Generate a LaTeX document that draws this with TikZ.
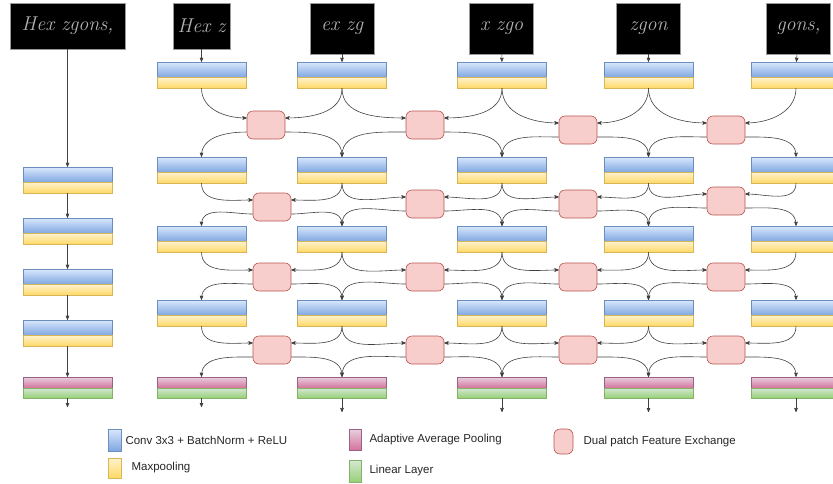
\documentclass[tikz,border=0pt]{standalone}
\usepackage{fontspec}
\newfontfamily\labelfont{Liberation Sans}
\usetikzlibrary{arrows,positioning,shapes}

\definecolor{convtop}{HTML}{DAE8FC}
\definecolor{convbot}{HTML}{7EA6E0}
\definecolor{convline}{HTML}{6C8EBF}
\definecolor{pooltop}{HTML}{FFF2CC}
\definecolor{poolbot}{HTML}{FFD966}
\definecolor{poolline}{HTML}{D6B656}
\definecolor{avgtop}{HTML}{E6D0DE}
\definecolor{avgbot}{HTML}{D5739D}
\definecolor{avgline}{HTML}{996185}
\definecolor{lintop}{HTML}{D5E8D4}
\definecolor{linbot}{HTML}{97D077}
\definecolor{linline}{HTML}{82B366}
\definecolor{xchfill}{HTML}{F8CECC}
\definecolor{xchline}{HTML}{B85450}

\begin{document}
\begin{tikzpicture}[->,>=stealth',x=1pt,y=-1pt,line width=0.6pt,draw=black!75,node distance=13pt]
\tikzstyle{conv}=[rectangle,draw=convline,line width=0.5pt,top color=convtop,bottom color=convbot,minimum width=89pt,minimum height=15.5pt,inner sep=0pt]
\tikzstyle{pool}=[rectangle,draw=poolline,line width=0.5pt,top color=pooltop,bottom color=poolbot,minimum width=89pt,minimum height=10.5pt,inner sep=0pt]
\tikzstyle{avg}=[rectangle,draw=avgline,line width=0.5pt,top color=avgtop,bottom color=avgbot,minimum width=89pt,minimum height=11pt,inner sep=0pt]
\tikzstyle{lin}=[rectangle,draw=linline,line width=0.5pt,top color=lintop,bottom color=linbot,minimum width=89pt,minimum height=10pt,inner sep=0pt]
\tikzstyle{xch}=[rectangle,rounded corners=6pt,draw=xchline,line width=0.6pt,fill=xchfill,minimum width=38pt,minimum height=28pt,inner sep=0pt]
\tikzstyle{image}=[rectangle,draw=black!40,line width=0.6pt,fill=black,text=black!30,inner sep=0pt,font=\fontsize{20}{22}\selectfont\itshape]
\tikzstyle{legend}=[inner sep=0pt,text=black!85,font=\labelfont\fontsize{11.5}{13}\selectfont]
\tikzstyle{tol}=[out=-90,in=180]
\tikzstyle{tor}=[out=-90,in=0]
\tikzstyle{froml}=[out=180,in=90]
\tikzstyle{fromr}=[out=0,in=90]

\useasboundingbox (0,0) rectangle (833,483);

% input line and its patches
\node[image] (I0) at (67.5,26) [minimum width=115pt,minimum height=46pt] {Hex zgons,};
\node[image] (I1) at (201.5,26) [minimum width=57pt,minimum height=46pt] {Hex z};
\node[image] (I2) at (342,28.5) [minimum width=64pt,minimum height=51pt] {ex zg};
\node[image] (I3) at (501.5,28.5) [minimum width=64pt,minimum height=51pt] {x zgo};
\node[image] (I4) at (648.5,28.5) [minimum width=64pt,minimum height=51pt] {zgon};
\node[image] (I5) at (798.5,28.5) [minimum width=64pt,minimum height=51pt] {gons,};

% baseline column
\node[conv] (CL1) at (67.5,174.75) {};
\node[pool] (PL1) [below of=CL1] {};
\node[conv] (CL2) at (67.5,225.75) {};
\node[pool] (PL2) [below of=CL2] {};
\node[conv] (CL3) at (67.5,276.75) {};
\node[pool] (PL3) [below of=CL3] {};
\node[conv] (CL4) at (67.5,327.75) {};
\node[pool] (PL4) [below of=CL4] {};
\node[avg] (AL) at (67.5,382.5) {};
\node[lin] (LL) [below of=AL,node distance=10.5pt] {};
\coordinate (EL) at (67.5,407);

% patch columns
\node[conv] (C11) at (201.5,69.75) {};
\node[pool] (P11) [below of=C11] {};
\node[conv] (C21) at (342,69.75) {};
\node[pool] (P21) [below of=C21] {};
\node[conv] (C31) at (502,69.75) {};
\node[pool] (P31) [below of=C31] {};
\node[conv] (C41) at (648.5,69.75) {};
\node[pool] (P41) [below of=C41] {};
\node[conv] (C51) at (796,69.75) {};
\node[pool] (P51) [below of=C51] {};

\node[conv] (C12) at (201.5,164.75) {};
\node[pool] (P12) [below of=C12] {};
\node[conv] (C22) at (342,164.75) {};
\node[pool] (P22) [below of=C22] {};
\node[conv] (C32) at (502,164.75) {};
\node[pool] (P32) [below of=C32] {};
\node[conv] (C42) at (648.5,164.75) {};
\node[pool] (P42) [below of=C42] {};
\node[conv] (C52) at (796,164.75) {};
\node[pool] (P52) [below of=C52] {};

\node[conv] (C13) at (201.5,233.75) {};
\node[pool] (P13) [below of=C13] {};
\node[conv] (C23) at (342,233.75) {};
\node[pool] (P23) [below of=C23] {};
\node[conv] (C33) at (502,233.75) {};
\node[pool] (P33) [below of=C33] {};
\node[conv] (C43) at (648.5,233.75) {};
\node[pool] (P43) [below of=C43] {};
\node[conv] (C53) at (796,233.75) {};
\node[pool] (P53) [below of=C53] {};

\node[conv] (C14) at (201.5,307.75) {};
\node[pool] (P14) [below of=C14] {};
\node[conv] (C24) at (342,307.75) {};
\node[pool] (P24) [below of=C24] {};
\node[conv] (C34) at (502,307.75) {};
\node[pool] (P34) [below of=C34] {};
\node[conv] (C44) at (648.5,307.75) {};
\node[pool] (P44) [below of=C44] {};
\node[conv] (C54) at (796,307.75) {};
\node[pool] (P54) [below of=C54] {};

\node[avg] (A1) at (201.5,382.5) {};
\node[lin] (L1) [below of=A1,node distance=10.5pt] {};
\node[avg] (A2) at (342,382.5) {};
\node[lin] (L2) [below of=A2,node distance=10.5pt] {};
\node[avg] (A3) at (502,382.5) {};
\node[lin] (L3) [below of=A3,node distance=10.5pt] {};
\node[avg] (A4) at (648.5,382.5) {};
\node[lin] (L4) [below of=A4,node distance=10.5pt] {};
\node[avg] (A5) at (796,382.5) {};
\node[lin] (L5) [below of=A5,node distance=10.5pt] {};
\coordinate (E1) at (201.5,407);
\coordinate (E2) at (342,412);
\coordinate (E3) at (502,412);
\coordinate (E4) at (648.5,412);
\coordinate (E5) at (796,412);

% feature exchange between neighbours
\node[xch] (X11) at (266,125) {};
\node[xch] (X12) at (425,125) {};
\node[xch] (X13) at (578,130) {};
\node[xch] (X14) at (726,130) {};
\node[xch] (X21) at (272,207) {};
\node[xch] (X22) at (425,204) {};
\node[xch] (X23) at (578,204) {};
\node[xch] (X24) at (726,201) {};
\node[xch] (X31) at (272,277) {};
\node[xch] (X32) at (425,277) {};
\node[xch] (X33) at (578,277) {};
\node[xch] (X34) at (726,277) {};
\node[xch] (X41) at (272,350) {};
\node[xch] (X42) at (425,350) {};
\node[xch] (X43) at (578,350) {};
\node[xch] (X44) at (726,350) {};

% legend
\node[conv,minimum width=13pt,minimum height=22pt] (K1) at (114.5,440) {};
\node[legend] (T1) [right=4pt of K1] {Conv 3x3 + BatchNorm + ReLU};
\node[pool,minimum width=13pt,minimum height=20pt] (K2) at (114.5,468) {};
\node[legend] (T2) [right=10pt of K2] {Maxpooling};
\node[avg,minimum width=12pt,minimum height=21pt] (K3) at (355,439.5) {};
\node[legend] (T3) [right=8pt of K3] {Adaptive Average Pooling};
\node[lin,minimum width=12pt,minimum height=22pt] (K4) at (355,471) {};
\node[legend] (T4) [right=8pt of K4] {Linear Layer};
\node[xch,minimum width=19pt,minimum height=25pt] (K5) at (563.5,441.5) {};
\node[legend] (T5) [right=10pt of K5] {Dual patch Feature Exchange};

\path
(I0) edge (CL1)
(PL1) edge (CL2)
(PL2) edge (CL3)
(PL3) edge (CL4)
(PL4) edge (AL)
(LL) edge (EL)
(I1) edge (C11)
(I2) edge (C21)
(I3) edge (C31)
(I4) edge (C41)
(I5) edge (C51)
;

\path
(P11) edge[tol] (X11.160)
(P21) edge[tor] (X11.20)
(P21) edge[tol] (X12.160)
(P31) edge[tor] (X12.20)
(P31) edge[tol] (X13.160)
(P41) edge[tor] (X13.20)
(P41) edge[tol] (X14.160)
(P51) edge[tor] (X14.20)
(X11.200) edge[froml] (C12)
(X11.-20) edge[fromr] (C22)
(X12.200) edge[froml] (C22)
(X12.-20) edge[fromr] (C32)
(X13.200) edge[froml] (C32)
(X13.-20) edge[fromr] (C42)
(X14.200) edge[froml] (C42)
(X14.-20) edge[fromr] (C52)
;

\path
(P12) edge[tol] (X21.160)
(P22) edge[tor] (X21.20)
(P22) edge[tol] (X22.160)
(P32) edge[tor] (X22.20)
(P32) edge[tol] (X23.160)
(P42) edge[tor] (X23.20)
(P42) edge[tol] (X24.160)
(P52) edge[tor] (X24.20)
(X21.200) edge[froml] (C13)
(X21.-20) edge[fromr] (C23)
(X22.200) edge[froml] (C23)
(X22.-20) edge[fromr] (C33)
(X23.200) edge[froml] (C33)
(X23.-20) edge[fromr] (C43)
(X24.200) edge[froml] (C43)
(X24.-20) edge[fromr] (C53)
;

\path
(P13) edge[tol] (X31.160)
(P23) edge[tor] (X31.20)
(P23) edge[tol] (X32.160)
(P33) edge[tor] (X32.20)
(P33) edge[tol] (X33.160)
(P43) edge[tor] (X33.20)
(P43) edge[tol] (X34.160)
(P53) edge[tor] (X34.20)
(X31.200) edge[froml] (C14)
(X31.-20) edge[fromr] (C24)
(X32.200) edge[froml] (C24)
(X32.-20) edge[fromr] (C34)
(X33.200) edge[froml] (C34)
(X33.-20) edge[fromr] (C44)
(X34.200) edge[froml] (C44)
(X34.-20) edge[fromr] (C54)
;

\path
(P14) edge[tol] (X41.160)
(P24) edge[tor] (X41.20)
(P24) edge[tol] (X42.160)
(P34) edge[tor] (X42.20)
(P34) edge[tol] (X43.160)
(P44) edge[tor] (X43.20)
(P44) edge[tol] (X44.160)
(P54) edge[tor] (X44.20)
(X41.200) edge[froml] (A1)
(X41.-20) edge[fromr] (A2)
(X42.200) edge[froml] (A2)
(X42.-20) edge[fromr] (A3)
(X43.200) edge[froml] (A3)
(X43.-20) edge[fromr] (A4)
(X44.200) edge[froml] (A4)
(X44.-20) edge[fromr] (A5)
(L1) edge (E1)
(L2) edge (E2)
(L3) edge (E3)
(L4) edge (E4)
(L5) edge (E5)
;
\end{tikzpicture}
\end{document}
